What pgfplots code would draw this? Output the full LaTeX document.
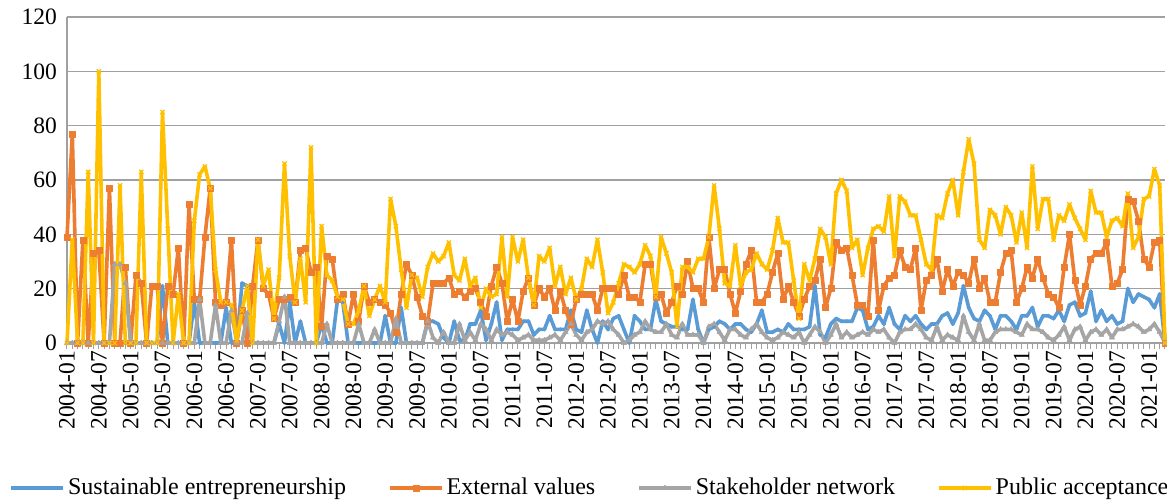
\documentclass[border=0pt]{standalone}
\usepackage{fontspec}
\setmainfont{Liberation Serif}
\usepackage{pgfplots}
\pgfplotsset{compat=1.18}
\usepackage{pgfplotstable}
\definecolor{cBlue}{HTML}{5B9BD5}
\definecolor{cOrange}{HTML}{ED7D31}
\definecolor{cGray}{HTML}{A5A5A5}
\definecolor{cYellow}{HTML}{FFC000}
\definecolor{gridc}{HTML}{A0A0A0}
\pgfplotstableread{
i se ev sn pa
0 0 39 0 0
1 0 77 0 38
2 0 0 0 0
3 0 38 0 0
4 0 0 0 63
5 0 33 0 0
6 0 34 0 100
7 0 0 0 0
8 0 57 0 0
9 0 0 29 0
10 0 0 29 58
11 0 28 22 0
12 0 0 0 0
13 0 25 0 0
14 0 22 0 63
15 0 0 0 0
16 0 21 0 0
17 0 21 0 0
18 21 0 0 85
19 0 21 0 42
20 0 18 0 0
21 0 35 0 18
22 0 0 0 0
23 0 51 0 0
24 15 16 0 45
25 0 16 16 62
26 0 39 0 65
27 0 57 0 57
28 0 15 14 27
29 0 14 0 15
30 13 15 0 15
31 0 38 12 14
32 0 0 0 1
33 22 12 0 12
34 21 0 11 21
35 0 21 0 0
36 0 38 0 38
37 0 20 0 21
38 0 18 0 27
39 0 9 0 9
40 7 16 8 24
41 0 16 17 66
42 15 17 0 32
43 0 15 0 15
44 8 34 0 31
45 0 35 0 15
46 0 26 0 72
47 0 28 0 0
48 7 6 0 43
49 0 32 7 25
50 0 31 0 23
51 16 16 0 17
52 15 18 0 16
53 0 7 0 7
54 0 18 0 7
55 0 8 7 12
56 0 21 0 21
57 0 15 0 10
58 0 16 5 16
59 0 15 0 21
60 10 14 0 15
61 0 11 0 53
62 0 4 9 43
63 13 18 0 27
64 0 29 0 13
65 0 25 0 25
66 0 17 0 24
67 0 10 0 17
68 8 8 8 28
69 8 22 2 33
70 7 22 0 30
71 2 22 4 32
72 0 24 0 37
73 8 18 0 25
74 1 19 7 23
75 1 17 1 31
76 7 19 4 21
77 7 20 1 24
78 12 15 7 13
79 1 10 5 20
80 7 21 1 17
81 15 28 5 18
82 1 22 3 39
83 5 8 4 17
84 5 16 3 39
85 5 8 1 30
86 8 19 2 38
87 8 24 3 24
88 3 14 1 14
89 5 20 1 32
90 5 17 1 30
91 10 20 2 35
92 5 12 3 21
93 5 19 1 28
94 5 12 4 18
95 12 7 7 24
96 5 16 3 16
97 4 18 1 20
98 12 18 4 31
99 5 18 5 28
100 0 12 8 38
101 8 20 7 26
102 5 20 8 11
103 9 20 5 15
104 10 18 3 22
105 5 25 0 29
106 0 17 1 28
107 10 17 3 26
108 8 15 4 29
109 5 29 8 36
110 5 29 5 32
111 16 17 4 17
112 8 18 4 39
113 7 11 7 33
114 6 15 3 26
115 6 21 2 6
116 5 18 7 28
117 5 30 3 28
118 16 20 3 26
119 5 20 3 31
120 0 15 0 31
121 5 39 6 39
122 6 20 7 58
123 8 27 4 42
124 7 27 1 22
125 5 18 5 21
126 7 11 5 36
127 7 19 3 21
128 5 29 2 26
129 4 34 5 27
130 7 15 7 33
131 12 15 4 29
132 4 18 2 27
133 4 26 1 34
134 5 33 2 46
135 4 16 4 37
136 7 21 3 37
137 5 15 2 23
138 5 10 4 9
139 5 16 0 29
140 6 21 3 23
141 21 23 6 31
142 3 31 4 42
143 2 13 0 39
144 7 20 3 29
145 9 37 7 55
146 8 34 2 60
147 8 35 4 56
148 8 25 2 35
149 13 14 3 38
150 12 14 4 25
151 5 10 3 35
152 6 38 5 42
153 10 12 4 43
154 7 21 5 41
155 13 24 2 54
156 7 25 0 32
157 5 34 4 54
158 10 28 5 52
159 8 27 5 47
160 10 35 7 47
161 7 12 5 38
162 5 23 2 29
163 7 25 1 27
164 7 31 6 47
165 10 19 1 46
166 11 27 3 55
167 7 21 2 60
168 11 26 1 47
169 21 25 10 63
170 13 22 4 75
171 9 31 1 66
172 8 20 7 38
173 12 24 1 35
174 10 15 1 49
175 5 15 4 47
176 10 26 5 40
177 10 33 5 50
178 8 34 5 47
179 5 15 4 37
180 10 20 3 48
181 10 28 7 35
182 13 24 5 65
183 6 31 5 42
184 10 24 4 53
185 10 18 2 53
186 9 17 1 38
187 12 13 3 47
188 8 28 6 45
189 14 40 1 51
190 15 23 5 46
191 10 14 6 42
192 11 21 1 38
193 19 31 4 56
194 8 33 5 48
195 12 33 3 48
196 8 37 5 39
197 10 21 2 45
198 7 22 5 46
199 8 27 5 43
200 20 53 6 55
201 15 52 7 35
202 18 45 6 39
203 17 31 4 53
204 16 28 5 54
205 13 37 7 64
206 18 38 4 58
207 0 0 0 0
}\data
\begin{document}
\fontsize{24}{28}\selectfont
\begin{tikzpicture}
\path[use as bounding box] (-67pt,-158pt) rectangle (1100pt,343pt);
\begin{axis}[
  scale only axis, width=1098pt, height=326pt,
  at={(0pt,0pt)}, anchor=south west,
  xmin=0, xmax=207, ymin=0, ymax=120,
  clip=false,
  axis lines*=left,
  axis line style={gridc, line width=1.2pt},
  ytick={0,20,...,120},
  ymajorgrids, grid style={gridc, line width=1.2pt},
  xtick={0,6,...,204},
  xticklabels={2004-01,2004-07,2005-01,2005-07,2006-01,2006-07,2007-01,2007-07,2008-01,2008-07,2009-01,2009-07,2010-01,2010-07,2011-01,2011-07,2012-01,2012-07,2013-01,2013-07,2014-01,2014-07,2015-01,2015-07,2016-01,2016-07,2017-01,2017-07,2018-01,2018-07,2019-01,2019-07,2020-01,2020-07,2021-01},
  minor xtick={0,1,...,207},
  xtick pos=lower, ytick pos=left,
  tick align=outside,
  major tick length=6pt, minor tick length=6pt,
  xtick style={gridc, line width=1pt},
  minor x tick style={gridc, line width=1pt},
  ytick style={draw=none},
  xticklabel style={rotate=90, anchor=east, font=\fontsize{23.5}{27}\selectfont, inner sep=2pt},
  yticklabel style={font=\fontsize{23.5}{27}\selectfont, inner sep=4pt},
  /pgf/number format/assume math mode=true,
  legend columns=4,
  legend style={at={(axis description cs:-0.0525,-0.4448)}, anchor=west, draw=none, fill=none, inner sep=0pt,
    font=\fontsize{24}{28}\selectfont, nodes={inner sep=3pt},
    /tikz/every even column/.append style={column sep=39pt}},
  legend cell align=left,
  legend image code/.code={\draw[mark repeat=2, mark phase=2] plot coordinates {(0pt,0pt) (26pt,0pt) (52pt,0pt)};},
]
\addplot[cBlue, line width=3.6pt, line join=round, mark=*, mark size=1.8pt, mark options={line width=0.5pt}] table[x=i,y=se]{\data};
\addlegendentry{Sustainable entrepreneurship}
\addplot[cOrange, line width=3.6pt, line join=round, mark=square*, mark size=3pt, mark options={line width=0.5pt}] table[x=i,y=ev]{\data};
\addlegendentry{External values}
\addplot[cGray, line width=3.6pt, line join=round, mark=triangle*, mark size=3pt, mark options={line width=0.5pt}] table[x=i,y=sn]{\data};
\addlegendentry{Stakeholder network}
\addplot[cYellow, line width=3.6pt, line join=round, mark=x, mark size=3pt, mark options={line width=1.2pt}] table[x=i,y=pa]{\data};
\addlegendentry{Public acceptance}
\end{axis}
\end{tikzpicture}
\end{document}
